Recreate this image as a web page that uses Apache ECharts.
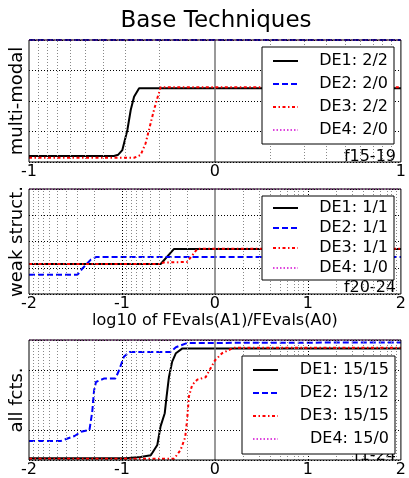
<!DOCTYPE html>
<html>
<head>
<meta charset="utf-8">
<script src="https://cdn.jsdelivr.net/npm/echarts@6/dist/echarts.min.js"></script>
<style>html,body{margin:0;padding:0;background:#fff}#c{width:409px;height:478px}</style>
</head>
<body>
<div id="c"></div>
<script>
// ---- data ----
const title = 'Base Techniques';
const panelNames = ['multi-modal', 'weak struct.', 'all fcts.'];
const panelTags = ['f15-19', 'f20-24', 'f1-24'];
const xRanges = [[-1, 1], [-2, 2], [-2, 2]];
const xAxisTitle = 'log10 of FEvals(A1)/FEvals(A0)';

const legend1 = ['DE1: 2/2', 'DE2: 2/0', 'DE3: 2/2', 'DE4: 2/0'];
const legend2 = ['DE1: 1/1', 'DE2: 1/1 ', 'DE3: 1/1', 'DE4: 1/0'];
const legend3 = ['DE1: 15/15', 'DE2: 15/12', 'DE3: 15/15', 'DE4: 15/0'];

// panel 1 (multi-modal)
const mm_DE1 = [[-1,0.049],[-0.543,0.049],[-0.52,0.06],[-0.498,0.098],[-0.471,0.262],[-0.453,0.426],[-0.435,0.535],[-0.408,0.604],[1,0.604]];
const mm_DE2 = [[-1,1],[1,1]];
const mm_DE3 = [[-1,0.035],[-0.435,0.035],[-0.4,0.057],[-0.373,0.153],[-0.355,0.262],[-0.328,0.426],[-0.31,0.522],[-0.292,0.612],[1,0.612]];
const mm_DE4 = [[-1,1],[1,1]];

// panel 2 (weak structure)
const ws_DE1 = [[-2,0.286],[-0.584,0.286],[-0.44,0.429],[2,0.429]];
const ws_DE2 = [[-2,0.184],[-1.478,0.184],[-1.42,0.248],[-1.335,0.327],[-1.28,0.352],[2,0.352]];
const ws_DE3 = [[-2,0.286],[-0.6,0.286],[-0.55,0.3],[-0.3,0.305],[-0.25,0.36],[-0.19,0.43],[2,0.43]];
const ws_DE4 = [[-2,1],[2,1]];

// panel 3 (all functions)
const af_DE1 = [[-2,0.014],[-0.96,0.014],[-0.8,0.025],[-0.69,0.04],[-0.62,0.125],[-0.585,0.28],[-0.54,0.39],[-0.52,0.53],[-0.495,0.69],[-0.46,0.82],[-0.42,0.89],[-0.35,0.93],[2,0.93]];
const af_DE2 = [[-2,0.158],[-1.66,0.158],[-1.51,0.2],[-1.44,0.236],[-1.35,0.25],[-1.32,0.4],[-1.3,0.58],[-1.28,0.65],[-1.19,0.68],[-1.07,0.68],[-1.03,0.75],[-0.98,0.86],[-0.92,0.9],[-0.48,0.9],[-0.42,0.94],[-0.3,0.975],[2,0.98]];
const af_DE3 = [[-2,0.01],[-0.44,0.01],[-0.37,0.083],[-0.32,0.19],[-0.3,0.33],[-0.28,0.53],[-0.245,0.625],[-0.19,0.67],[-0.1,0.69],[-0.05,0.76],[0,0.83],[0.077,0.89],[0.2,0.935],[2,0.935]];
const af_DE4 = [[-2,1],[2,1]];

const yTicks = [0, 0.25, 0.5, 0.75, 1];

// ---- layout / styles ----
const FONT = 'DejaVu Sans';
const grids = [
  {left: 28, top: 40, width: 373, height: 122},
  {left: 28, top: 189, width: 373, height: 105},
  {left: 28, top: 340, width: 373, height: 120}
];
const styles = [
  {color: '#000000', width: 2, type: 'solid'},
  {color: '#0000ff', width: 2, type: [6, 3]},
  {color: '#ff0000', width: 2, type: [3, 2.5, 1.5, 2.5]},
  {color: '#dd44dd', width: 1.5, type: [1.5, 2]}
];
const panelData = [[mm_DE1, mm_DE2, mm_DE3, mm_DE4],[ws_DE1, ws_DE2, ws_DE3, ws_DE4],[af_DE1, af_DE2, af_DE3, af_DE4]];
const legends = [legend1, legend2, legend3];

function minorTicks(r) {
  const out = [];
  const maxDec = Math.max(Math.abs(r[0]), Math.abs(r[1]));
  for (let m = 0; m < maxDec; m++) {
    for (let k = 2; k <= 9; k++) {
      const v = Math.log10(k) + m;
      if (v < r[1]) out.push(v);
      if (-v > r[0]) out.push(-v);
    }
  }
  return out;
}
function majorTicks(r) {
  const out = [];
  for (let v = r[0] + 1; v < r[1]; v++) if (v !== 0) out.push(v);
  return out;
}

const chart = echarts.init(document.getElementById('c'), null, {renderer: 'canvas'});
const option = {
  animation: false,
  backgroundColor: '#fff',
  grid: grids.map(g => Object.assign({show: true, borderColor: '#000', borderWidth: 1, backgroundColor: 'transparent', z: 10}, g)),
  xAxis: grids.map((g, i) => ({
    gridIndex: i, type: 'value', min: xRanges[i][0], max: xRanges[i][1], interval: 1,
    axisLine: {show: false}, axisTick: {show: false},
    splitLine: {show: false},
    axisLabel: {show: true, color: '#000', fontFamily: FONT, fontSize: 16, margin: 2},
    name: i === 1 ? xAxisTitle : '', nameLocation: 'middle', nameGap: 19,
    nameTextStyle: {color: '#000', fontFamily: FONT, fontSize: 16}
  })),
  yAxis: grids.map((g, i) => ({
    gridIndex: i, type: 'value', min: 0, max: 1, interval: 0.25,
    axisLine: {show: false}, axisTick: {show: false}, axisLabel: {show: false},
    splitLine: {show: true, lineStyle: {color: '#000', width: 1, type: [1, 2]}},
    name: panelNames[i], nameLocation: 'middle', nameGap: 3,
    nameTextStyle: {color: '#000', fontFamily: FONT, fontSize: 18}
  })),
  legend: legends.map((names, i) => {
    const cfg = [
      {left: 262, top: 47, itemGap: 7, padding: [6, 6, 6, 10], w: 85},
      {left: 262, top: 196, itemGap: 4, padding: [4, 6, 4, 10], w: 85},
      {left: 242, top: 356, itemGap: 7, padding: [6, 6, 7, 10], w: 106}
    ][i];
    return {
      data: names, orient: 'vertical', left: cfg.left, top: cfg.top,
      itemGap: cfg.itemGap, padding: cfg.padding, itemWidth: 25, itemHeight: 14,
      backgroundColor: '#fff', borderColor: '#000', borderWidth: 1, borderRadius: 0,
      selectedMode: false, z: 20,
      itemStyle: {opacity: 0, borderWidth: 0},
      formatter: n => '{a|' + n.trim() + '}',
      textStyle: {rich: {a: {width: cfg.w, align: 'right', fontFamily: FONT, fontSize: 16, lineHeight: 16, color: '#000'}}}
    };
  }),
  series: [],
  graphic: []
};

panelData.forEach((arrs, p) => {
  // grid helper lines
  option.series.push({
    type: 'line', name: '_grid' + p, xAxisIndex: p, yAxisIndex: p, data: [], z: 1, silent: true,
    markLine: {
      silent: true, symbol: 'none', label: {show: false}, animation: false,
      data: [
        ...minorTicks(xRanges[p]).map(v => ({xAxis: v, lineStyle: {color: '#888', width: 1, type: [1, 2]}})),
        ...majorTicks(xRanges[p]).map(v => ({xAxis: v, lineStyle: {color: '#000', width: 1, type: [1, 2]}})),
        {xAxis: 0, lineStyle: {color: '#777', width: 1.5, type: 'solid'}}
      ]
    }
  });
  arrs.forEach((d, s) => {
    option.series.push({
      type: 'line', name: legends[p][s], xAxisIndex: p, yAxisIndex: p,
      data: d, symbol: 'none', showSymbol: false, z: 3 + s,
      lineStyle: Object.assign({}, styles[s]),
      itemStyle: {color: styles[s].color},
      clip: true
    });
  });
  const yb = grids[p].top + grids[p].height + [2.5, 2, 3.5][p];
  option.graphic.push({
    type: 'text', x: 396, y: yb, z: 0,
    style: {text: panelTags[p], font: '16px ' + FONT, fill: '#000', textAlign: 'right', textVerticalAlign: 'bottom'}
  });
});
option.graphic.push({
  type: 'text', x: 216, y: 10, z: 0,
  style: {text: title, font: '23px ' + FONT, fill: '#000', textAlign: 'center', textVerticalAlign: 'top'}
});

chart.setOption(option);
</script>
</body>
</html>
